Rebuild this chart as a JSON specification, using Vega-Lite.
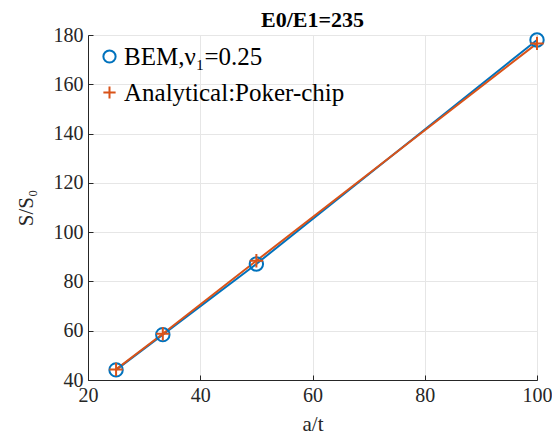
{
  "$schema": "https://vega.github.io/schema/vega-lite/v6.json",
  "autosize": {"type": "none"},
  "width": 449,
  "height": 345,
  "padding": {"left": 88, "top": 35, "right": 15, "bottom": 59},
  "background": "white",
  "title": {"text": "E0/E1=235", "font": "Times New Roman, Liberation Serif, serif", "fontSize": 22, "fontWeight": "bold", "color": "#000000", "offset": 0, "dy": 7, "anchor": "middle"},
  "config": {
    "font": "Times New Roman, Liberation Serif, serif",
    "view": {"stroke": "#262626", "strokeWidth": 1},
    "axis": {"labelFont": "Times New Roman, Liberation Serif, serif", "titleFont": "Times New Roman, Liberation Serif, serif", "labelFontSize": 20, "titleFontSize": 21, "titleFontWeight": "normal", "labelColor": "#262626", "titleColor": "#262626", "domainColor": "#262626", "tickColor": "#262626", "gridColor": "#e6e6e6", "tickSize": -5, "labelPadding": 10, "labelFlush": false}
  },
  "data": {"values": [
    {"x": 25, "y": 44.1, "s": "BEM,ν₁=0.25"},
    {"x": 33.33, "y": 58.4, "s": "BEM,ν₁=0.25"},
    {"x": 50, "y": 87.1, "s": "BEM,ν₁=0.25"},
    {"x": 100, "y": 178.0, "s": "BEM,ν₁=0.25"},
    {"x": 25, "y": 44.3, "s": "Analytical:Poker-chip"},
    {"x": 33.33, "y": 58.8, "s": "Analytical:Poker-chip"},
    {"x": 50, "y": 88.4, "s": "Analytical:Poker-chip"},
    {"x": 100, "y": 176.6, "s": "Analytical:Poker-chip"}
  ]},
  "encoding": {
    "x": {"field": "x", "type": "quantitative", "scale": {"domain": [20, 100], "nice": false, "zero": false}, "axis": {"values": [20, 40, 60, 80, 100], "title": "a/t", "titlePadding": 8, "labelFlush": false}},
    "y": {"field": "y", "type": "quantitative", "scale": {"domain": [40, 180], "nice": false, "zero": false}, "axis": {"values": [40, 60, 80, 100, 120, 140, 160, 180], "title": "S/S₀", "titlePadding": 17, "labelFlush": false}},
    "color": {"field": "s", "type": "nominal", "scale": {"domain": ["BEM,ν₁=0.25", "Analytical:Poker-chip"], "range": ["#0072BD", "#D95319"]}, "legend": {"title": null, "orient": "top-left", "offset": 5, "labelFont": "Times New Roman, Liberation Serif, serif", "labelFontSize": 25, "labelLimit": 0, "labelColor": "#000000", "symbolStrokeWidth": 2, "symbolSize": 150, "rowPadding": 10, "labelOffset": 2, "symbolFillColor": "transparent", "padding": 4}}
  },
  "layer": [
    {"mark": {"type": "line", "strokeWidth": 2}, "encoding": {"detail": {"field": "s"}}},
    {"mark": {"type": "point", "filled": false, "strokeWidth": 2, "size": 180, "opacity": 1},
     "encoding": {"shape": {"field": "s", "type": "nominal", "scale": {"domain": ["BEM,ν₁=0.25", "Analytical:Poker-chip"], "range": ["circle", "M-1,0L1,0M0,-1L0,1"]}, "legend": {"title": null}}}}
  ]
}
